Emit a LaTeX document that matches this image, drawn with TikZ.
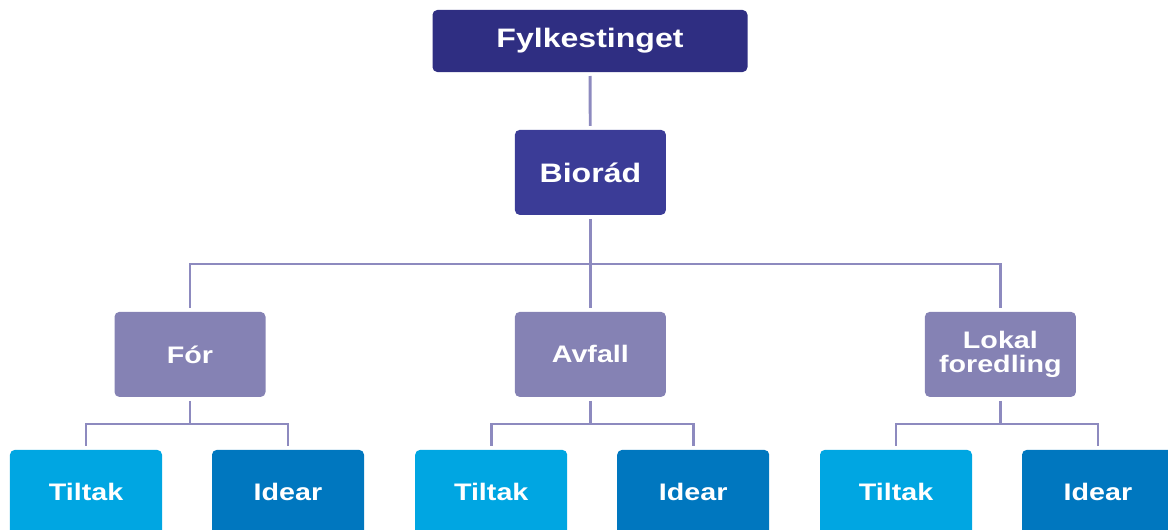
\documentclass[tikz,border=0pt]{standalone}
\usepackage{fontspec}
\newfontfamily\boxfont{Liberation Sans}[FakeStretch=1.2]
\usetikzlibrary{positioning}
\definecolor{navy}{HTML}{2F2E82}
\definecolor{navylight}{HTML}{3B3C97}
\definecolor{lilac}{HTML}{8582B4}
\definecolor{skyblue}{HTML}{00A6E2}
\definecolor{deepblue}{HTML}{0077BF}
\definecolor{linkcol}{HTML}{8D8ABF}

\begin{document}
\begin{tikzpicture}[
    every node/.style={text=white, inner sep=0pt, outer sep=0.1cm, rounded corners=0.12cm, align=center},
    topbox/.style={fill=navy, minimum width=7.875cm, minimum height=1.55cm, font=\boxfont\bfseries\fontsize{19}{21}\selectfont},
    boardbox/.style={fill=navylight, minimum width=3.775cm, minimum height=2.125cm, font=\boxfont\bfseries\fontsize{19}{21}\selectfont},
    areabox/.style={fill=lilac, minimum width=3.775cm, minimum height=2.125cm, font=\boxfont\bfseries\fontsize{17}{17}\selectfont},
    tiltakbox/.style={fill=skyblue, minimum width=3.8cm, minimum height=2.125cm, font=\boxfont\bfseries\fontsize{17}{17}\selectfont},
    ideabox/.style={fill=deepblue, minimum width=3.8cm, minimum height=2.125cm, font=\boxfont\bfseries\fontsize{17}{17}\selectfont},
    link/.style={draw=linkcol, line width=2.1pt}]
    \useasboundingbox (0,0) rectangle (29.2,-13.25);
    \clip (0,0) rectangle (29.2,-13.25);

    \node[topbox] (fylke) at (14.75,-1.025) {Fylkestinget};
    \node[boardbox] (biorad) at (14.76,-4.31) {Biorád};

    \node[areabox] (for) at (4.75,-8.86) {Fór};
    \node[areabox] (avfall) at (14.76,-8.86) {Avfall};
    \node[areabox] (lokal) at (25.01,-8.86) {Lokal\\foredling};

    \node[tiltakbox] (tiltakA) at (2.15,-12.31) {Tiltak};
    \node[ideabox] (idearA) at (7.2,-12.31) {Idear};
    \node[tiltakbox] (tiltakB) at (12.28,-12.31) {Tiltak};
    \node[ideabox] (idearB) at (17.33,-12.31) {Idear};
    \node[tiltakbox] (tiltakC) at (22.4,-12.31) {Tiltak};
    \node[ideabox] (idearC) at (27.45,-12.31) {Idear};

    \coordinate (hub) at (14.76,-6.6);
    \coordinate (hubA) at (4.75,-10.6);
    \coordinate (hubB) at (14.76,-10.6);
    \coordinate (hubC) at (25.01,-10.6);

    \draw[link] (fylke) -- (biorad);
    \draw[link] (biorad) -- (hub) -- (avfall);
    \draw[link] (for) |- (hub) -| (lokal);

    \draw[link] (for) -- (hubA);
    \draw[link] (tiltakA) |- (hubA) -| (idearA);
    \draw[link] (avfall) -- (hubB);
    \draw[link] (tiltakB) |- (hubB) -| (idearB);
    \draw[link] (lokal) -- (hubC);
    \draw[link] (tiltakC) |- (hubC) -| (idearC);
\end{tikzpicture}
\end{document}
